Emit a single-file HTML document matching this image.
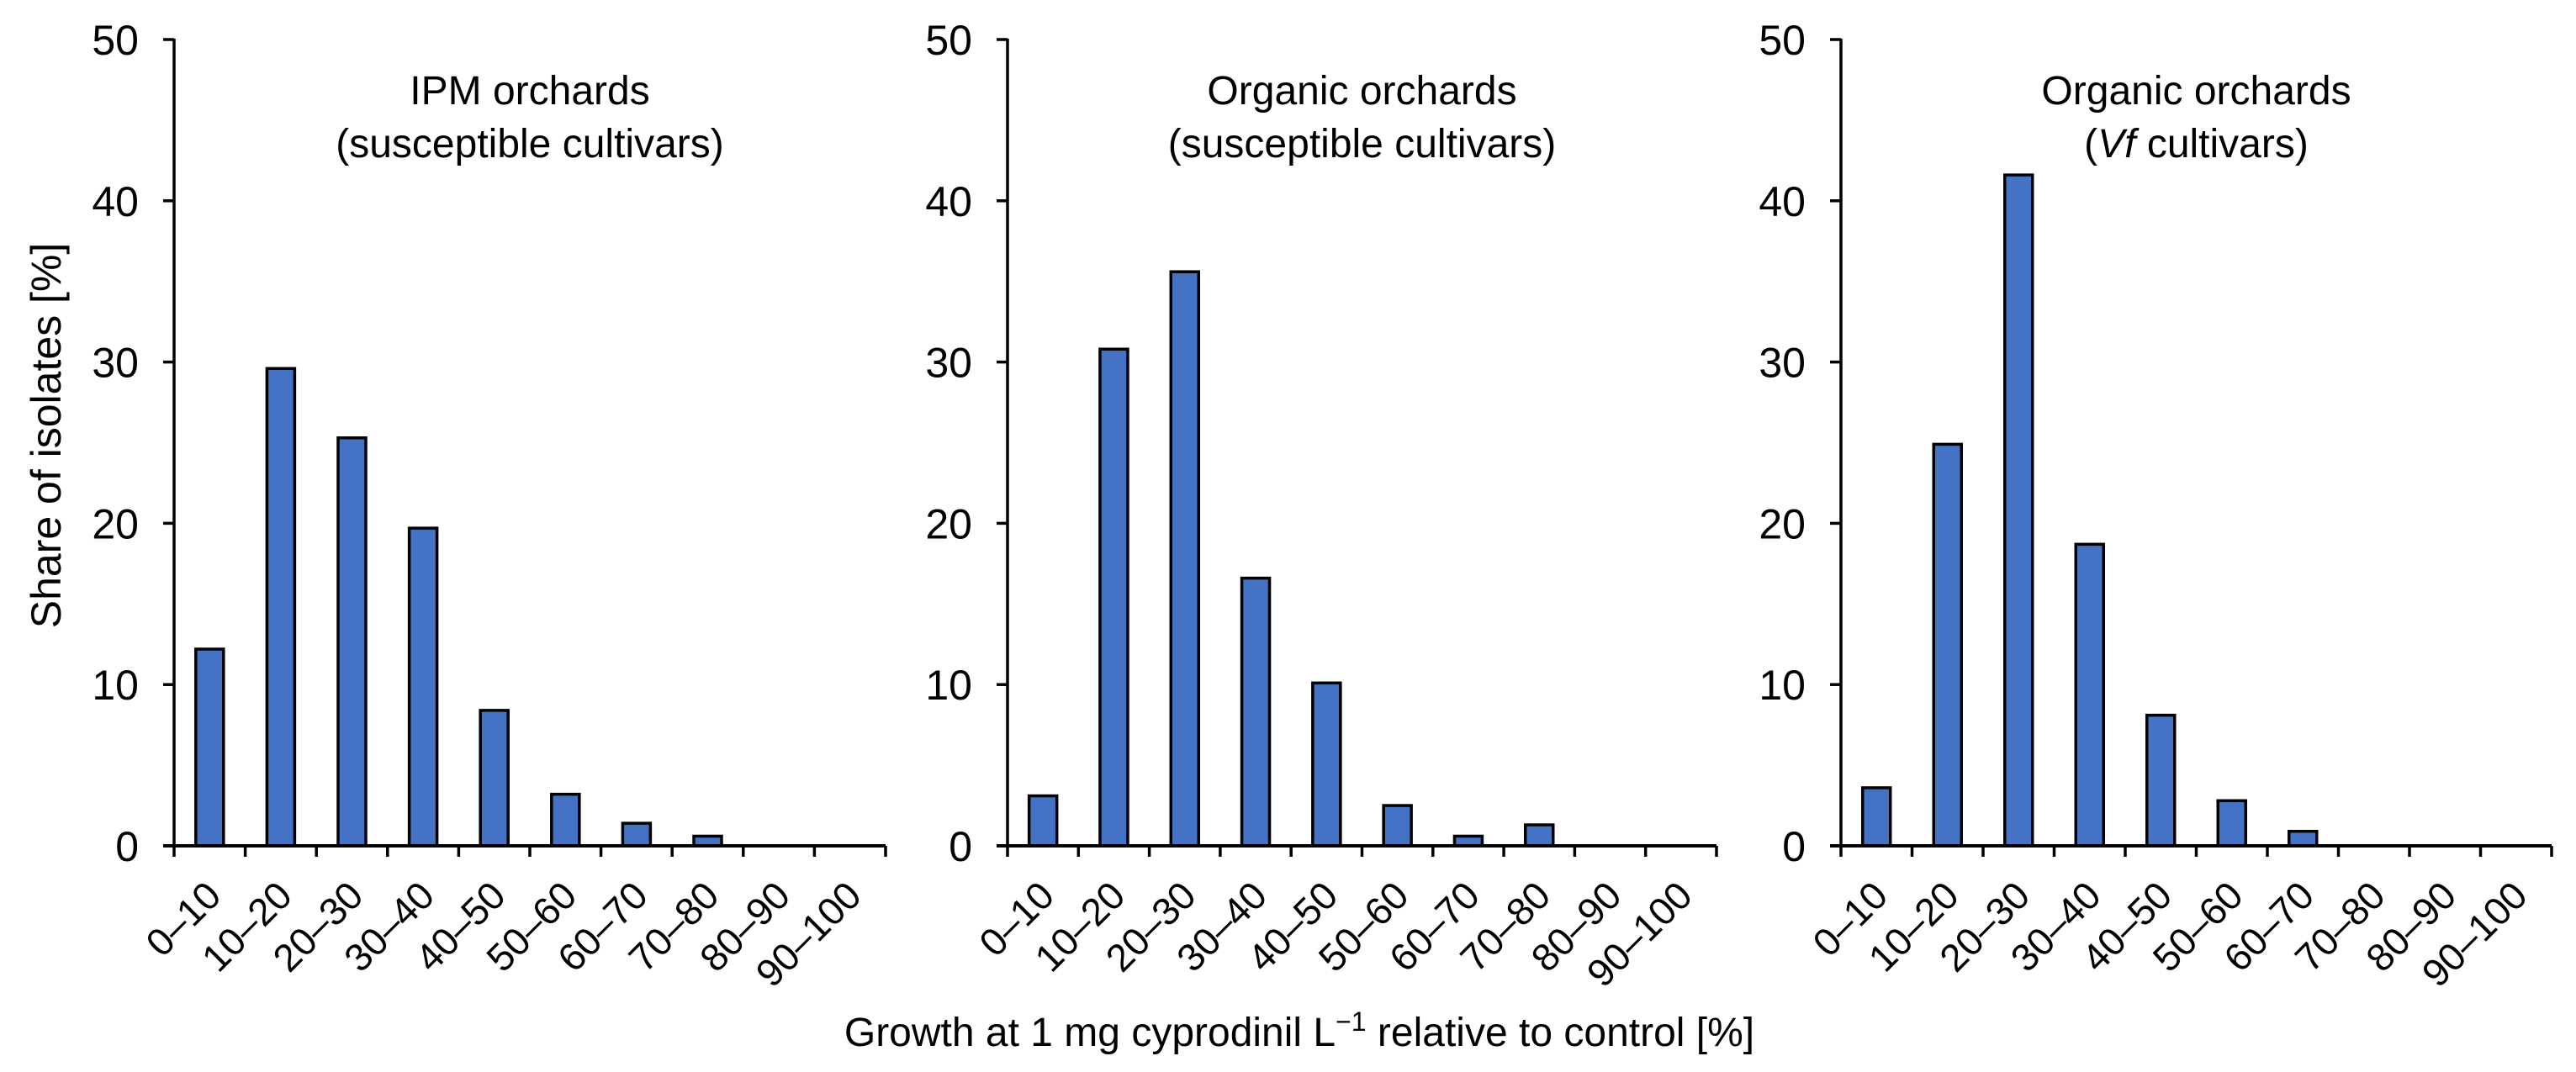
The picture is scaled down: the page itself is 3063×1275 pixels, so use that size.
<!DOCTYPE html>
<html><head><meta charset="utf-8"><style>
html,body{margin:0;padding:0;background:#fff;}
svg{display:block;font-family:"Liberation Sans",Arial,sans-serif;}
</style></head><body>
<svg id="chart" width="3063" height="1275" viewBox="0 0 3063 1275">
<text x="0" y="0" transform="translate(72,518) rotate(-90)" text-anchor="middle" font-size="50">Share of isolates [%]</text>
<text x="1545" y="1244" text-anchor="middle" font-size="48">Growth at 1 mg cyprodinil L<tspan baseline-shift="super" font-size="32">−1</tspan> relative to control [%]</text>
</svg>
<script>
const categories = ["0–10","10–20","20–30","30–40","40–50","50–60","60–70","70–80","80–90","90–100"];
const ipmValues = [12.2, 29.6, 25.3, 19.7, 8.4, 3.2, 1.4, 0.6, 0, 0];
const organicSuscValues = [3.1, 30.8, 35.6, 16.6, 10.1, 2.5, 0.6, 1.3, 0, 0];
const organicVfValues = [3.6, 24.9, 41.6, 18.7, 8.1, 2.8, 0.9, 0, 0, 0];
const yTicks = [0, 10, 20, 30, 40, 50];
const panelTitles = [["IPM orchards","(susceptible cultivars)"],["Organic orchards","(susceptible cultivars)"],["Organic orchards","(Vf cultivars)"]];

const NS = "http://www.w3.org/2000/svg";
const svg = document.getElementById("chart");
const panels = [
  {x0: 207, x1: 1053, vals: ipmValues, name: "ipm"},
  {x0: 1198, x1: 2041, vals: organicSuscValues, name: "organic-susceptible"},
  {x0: 2189, x1: 3034, vals: organicVfValues, name: "organic-vf"}
];
const yBase = 1006, yTop = 47, yMax = 50;
function yScale(v){ return yBase - (v / yMax) * (yBase - yTop); }
function mk(tag, attrs, parent){
  const e = document.createElementNS(NS, tag);
  for (const k in attrs) e.setAttribute(k, attrs[k]);
  (parent || svg).appendChild(e);
  return e;
}
panels.forEach((p, pi) => {
  const g = mk("g", {});
  
  
  const band = (p.x1 - p.x0) / categories.length;
  const xScale = i => p.x0 + band * (i + 0.5);
  const t = mk("text", {x: (p.x0 + p.x1) / 2, y: 124, "text-anchor": "middle", "font-size": 48}, g);
  
  
  t.textContent = panelTitles[pi][0];
  const t2 = mk("text", {x: (p.x0 + p.x1) / 2, y: 187, "text-anchor": "middle", "font-size": 48}, g);
  
  
  const sub = panelTitles[pi][1];
  if (sub.indexOf("Vf") >= 0) {
    t2.appendChild(document.createTextNode("("));
    const it = mk("tspan", {"font-style": "italic"}, t2);
    it.textContent = "Vf";
    t2.appendChild(document.createTextNode(" cultivars)"));
  } else t2.textContent = sub;
  p.vals.forEach((v, i) => {
    if (v <= 0) return;
    const bw = 33;
    const r = mk("rect", {x: xScale(i) - bw / 2, y: yScale(v), width: bw, height: yBase - yScale(v), fill: "#4472C4", stroke: "#000", "stroke-width": 3.5}, g);
    
    
  });
  const ya = mk("line", {x1: p.x0, y1: yTop - 1, x2: p.x0, y2: yBase, stroke: "#000", "stroke-width": 3.5}, g);
  
  
  yTicks.forEach(v => {
    const tk = mk("line", {x1: p.x0 - 13, y1: yScale(v), x2: p.x0, y2: yScale(v), stroke: "#000", "stroke-width": 3.5}, g);
    
    
    const lb = mk("text", {x: p.x0 - 42, y: yScale(v) + 18, "text-anchor": "end", "font-size": 50}, g);
    
    
    lb.textContent = v;
  });
  const xa = mk("line", {x1: p.x0 - 13, y1: yBase, x2: p.x1, y2: yBase, stroke: "#000", "stroke-width": 4}, g);
  
  
  for (let i = 0; i <= categories.length; i++) {
    const x = p.x0 + band * i;
    const tk = mk("line", {x1: x, y1: yBase, x2: x, y2: yBase + 13, stroke: "#000", "stroke-width": 3.5}, g);
    
    
  }
  categories.forEach((c, i) => {
    const x = xScale(i) + 16, y = yBase + 62;
    const lb = mk("text", {x: 0, y: 0, "text-anchor": "end", "font-size": 46, transform: "translate(" + x + "," + y + ") rotate(-45)"}, g);
    
    
    lb.textContent = c;
  });
});
</script>
</body></html>
